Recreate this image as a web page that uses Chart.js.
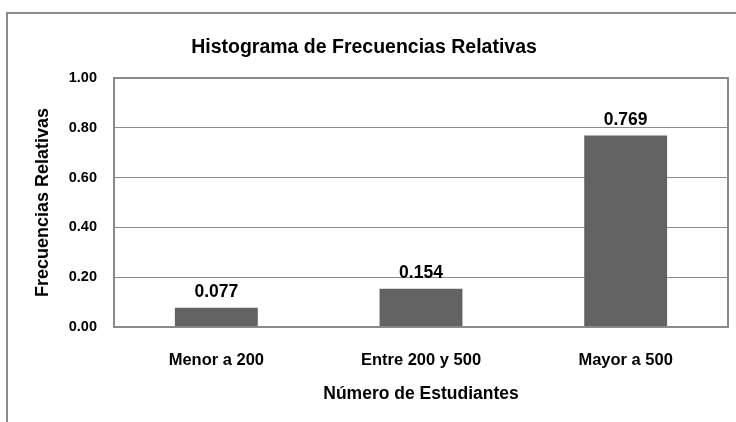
<!DOCTYPE html>
<html>
<head>
<meta charset="utf-8">
<script src="https://cdn.jsdelivr.net/npm/chart.js@4.4.1/dist/chart.umd.min.js"></script>
<style>
html,body{margin:0;padding:0;background:#fff;}
#wrap{width:736px;height:422px;position:relative;}
</style>
</head>
<body>
<div id="wrap"><canvas id="c" width="736" height="422"></canvas></div>
<script>
const categories = ["Menor a 200", "Entre 200 y 500", "Mayor a 500"];
const frecuencias = [0.077, 0.154, 0.769];
const valueLabels = ["0.077", "0.154", "0.769"];
const yTicks = [0, 0.2, 0.4, 0.6, 0.8, 1.0];

const FONT = "'Liberation Sans', Arial, sans-serif";

const framePlugin = {
  id: 'frame',
  beforeDraw(chart) {
    const ctx = chart.ctx;
    ctx.save();
    ctx.fillStyle = '#ffffff';
    ctx.fillRect(0, 0, chart.width, chart.height);
    ctx.strokeStyle = '#8a8a8a';
    ctx.lineWidth = 2;
    ctx.beginPath();
    ctx.moveTo(7, chart.height + 5);
    ctx.lineTo(7, 13);
    ctx.lineTo(chart.width + 5, 13);
    ctx.stroke();
    ctx.restore();
  },
  afterDatasetsDraw(chart) {
    const ctx = chart.ctx;
    const a = chart.chartArea;
    ctx.save();
    ctx.strokeStyle = '#8a8a8a';
    ctx.lineWidth = 2;
    ctx.strokeRect(a.left, a.top, a.right - a.left, a.bottom - a.top);
    const meta = chart.getDatasetMeta(0);
    ctx.fillStyle = '#000';
    ctx.font = "bold 17.5px " + FONT;
    ctx.textAlign = 'center';
    ctx.textBaseline = 'alphabetic';
    meta.data.forEach((bar, i) => {
      ctx.fillText(valueLabels[i], bar.x, bar.y - 11);
    });
    ctx.restore();
  }
};

new Chart(document.getElementById('c'), {
  type: 'bar',
  data: {
    labels: categories,
    datasets: [{
      data: frecuencias,
      backgroundColor: '#636363',
      borderWidth: 0,
      barPercentage: 0.405,
      categoryPercentage: 1.0
    }]
  },
  options: {
    responsive: false,
    animation: false,
    devicePixelRatio: 1,
    layout: { padding: { top: 0, right: 8, bottom: 0, left: 0 } },
    plugins: {
      legend: { display: false },
      tooltip: { enabled: false },
      title: {
        display: true,
        text: 'Histograma de Frecuencias Relativas',
        color: '#000',
        font: { family: FONT, size: 19.5, weight: 'bold', lineHeight: 1.2 },
        padding: { top: 36, bottom: 18.6 }
      }
    },
    scales: {
      x: {
        grid: { display: false, drawTicks: false },
        border: { display: false },
        ticks: {
          color: '#000',
          font: { family: FONT, size: 16.5, weight: 'bold' },
          padding: 24,
          maxRotation: 0
        },
        title: {
          display: true,
          text: 'Número de Estudiantes',
          color: '#000',
          font: { family: FONT, size: 17.5, weight: 'bold', lineHeight: 1.2 },
          padding: { top: 0, bottom: 17 }
        },
        afterFit(scale) { scale.height = 95; }
      },
      y: {
        min: 0,
        max: 1,
        afterBuildTicks(scale) { scale.ticks = yTicks.map(v => ({ value: v })); },
        grid: { color: '#8c8c8c', lineWidth: 1, drawTicks: false },
        border: { display: false },
        ticks: {
          color: '#000',
          font: { family: FONT, size: 14.5, weight: 'bold' },
          padding: 17,
          callback: v => Number(v).toFixed(2)
        },
        title: {
          display: true,
          text: 'Frecuencias Relativas',
          color: '#000',
          font: { family: FONT, size: 18, weight: 'bold', lineHeight: 1.2 },
          padding: { top: 32, bottom: 0 }
        },
        afterFit(scale) { scale.width = 114; }
      }
    }
  },
  plugins: [framePlugin]
});
</script>
</body>
</html>
